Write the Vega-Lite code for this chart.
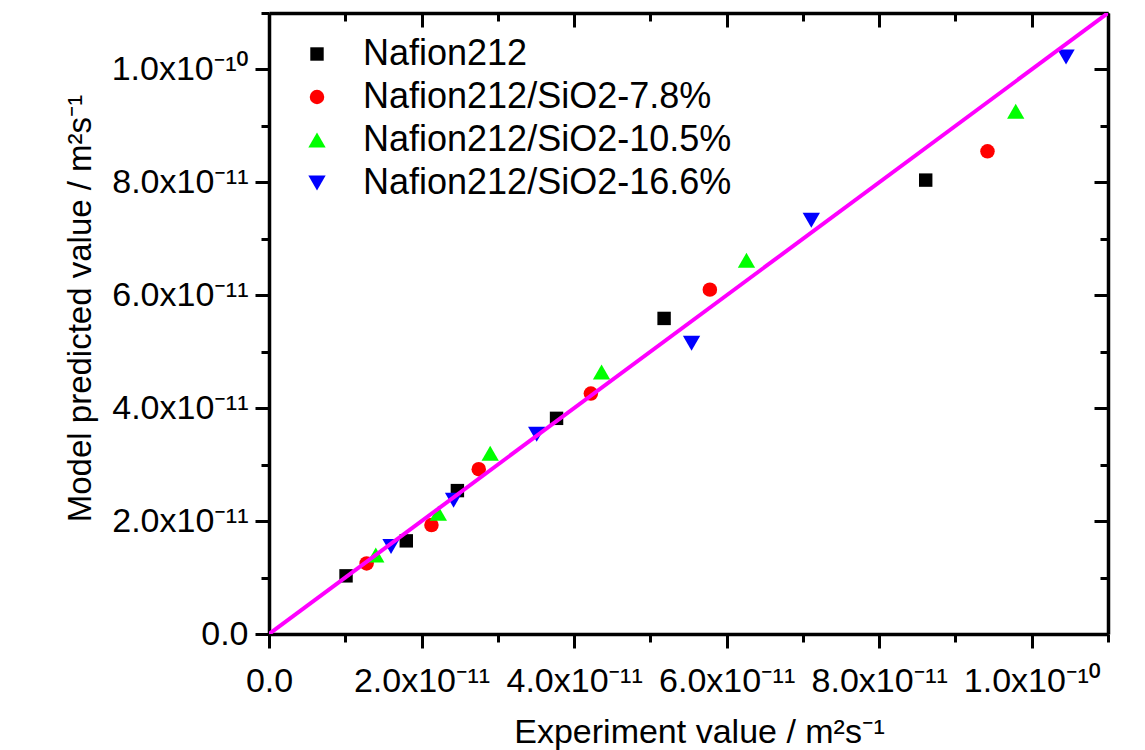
{
  "$schema": "https://vega.github.io/schema/vega-lite/v6.json",
  "autosize": {"type": "none"},
  "padding": {"left": 269, "top": 13, "right": 37, "bottom": 116},
  "width": 839,
  "height": 621,
  "background": "white",
  "config": {"font": "Liberation Sans, Noto Sans", "view": {"stroke": null}},
  "datasets": {
    "pts": [
      {"series": "Nafion212", "exp": 1.01e-11, "model": 1.03e-11},
      {"series": "Nafion212", "exp": 1.80e-11, "model": 1.65e-11},
      {"series": "Nafion212", "exp": 2.47e-11, "model": 2.54e-11},
      {"series": "Nafion212", "exp": 3.77e-11, "model": 3.82e-11},
      {"series": "Nafion212", "exp": 5.18e-11, "model": 5.59e-11},
      {"series": "Nafion212", "exp": 8.61e-11, "model": 8.04e-11},
      {"series": "Nafion212/SiO2-7.8%", "exp": 1.28e-11, "model": 1.25e-11},
      {"series": "Nafion212/SiO2-7.8%", "exp": 2.13e-11, "model": 1.93e-11},
      {"series": "Nafion212/SiO2-7.8%", "exp": 2.75e-11, "model": 2.92e-11},
      {"series": "Nafion212/SiO2-7.8%", "exp": 4.22e-11, "model": 4.26e-11},
      {"series": "Nafion212/SiO2-7.8%", "exp": 5.78e-11, "model": 6.10e-11},
      {"series": "Nafion212/SiO2-7.8%", "exp": 9.42e-11, "model": 8.55e-11},
      {"series": "Nafion212/SiO2-10.5%", "exp": 1.40e-11, "model": 1.40e-11},
      {"series": "Nafion212/SiO2-10.5%", "exp": 2.22e-11, "model": 2.14e-11},
      {"series": "Nafion212/SiO2-10.5%", "exp": 2.90e-11, "model": 3.20e-11},
      {"series": "Nafion212/SiO2-10.5%", "exp": 4.36e-11, "model": 4.64e-11},
      {"series": "Nafion212/SiO2-10.5%", "exp": 6.26e-11, "model": 6.62e-11},
      {"series": "Nafion212/SiO2-10.5%", "exp": 9.79e-11, "model": 9.26e-11},
      {"series": "Nafion212/SiO2-16.6%", "exp": 1.60e-11, "model": 1.55e-11},
      {"series": "Nafion212/SiO2-16.6%", "exp": 2.42e-11, "model": 2.37e-11},
      {"series": "Nafion212/SiO2-16.6%", "exp": 3.51e-11, "model": 3.54e-11},
      {"series": "Nafion212/SiO2-16.6%", "exp": 5.54e-11, "model": 5.15e-11},
      {"series": "Nafion212/SiO2-16.6%", "exp": 7.11e-11, "model": 7.33e-11},
      {"series": "Nafion212/SiO2-16.6%", "exp": 10.45e-11, "model": 10.22e-11}
    ],
    "diag": [
      {"exp": 0, "model": 0},
      {"exp": 1.1e-10, "model": 1.1e-10}
    ]
  },
  "resolve": {"axis": {"x": "independent", "y": "independent"}},
  "layer": [
    {
      "data": {"name": "pts"},
      "mark": {"type": "point", "filled": true, "opacity": 1, "strokeWidth": 0},
      "encoding": {
        "x": {
          "field": "exp", "type": "quantitative",
          "scale": {"domain": [0, 1.1e-10], "nice": false, "zero": false},
          "axis": {
            "orient": "bottom",
            "values": [0, 1e-11, 2e-11, 3e-11, 4e-11, 5e-11, 6e-11, 7e-11, 8e-11, 9e-11, 1e-10, 1.1e-10],
            "labelExpr": "round(datum.value*1e11) % 2 == 1 ? '' : round(datum.value*1e11) == 0 ? '0.0' : round(datum.value*1e11) >= 10 ? format(round(datum.value*1e11)/10, '.1f') + 'x10⁻¹⁰' : format(round(datum.value*1e11), '.1f') + 'x10⁻¹¹'",
            "labelFontSize": 34, "labelColor": "black", "labelFlush": false, "labelOverlap": false, "labelPadding": 16,
            "tickColor": "black", "tickWidth": 3,
            "tickSize": {"condition": {"test": "round(datum.value*1e11) % 2 == 1", "value": 8}, "value": 14},
            "domainColor": "black", "domainWidth": 3.5, "grid": false,
            "title": "Experiment value / m²s⁻¹", "titleFontSize": 34, "titleFontWeight": "normal", "titleColor": "black", "titlePadding": 17, "titleX": 430
          }
        },
        "y": {
          "field": "model", "type": "quantitative",
          "scale": {"domain": [0, 1.1e-10], "nice": false, "zero": false},
          "axis": {
            "orient": "left",
            "values": [0, 1e-11, 2e-11, 3e-11, 4e-11, 5e-11, 6e-11, 7e-11, 8e-11, 9e-11, 1e-10, 1.1e-10],
            "labelExpr": "round(datum.value*1e11) % 2 == 1 ? '' : round(datum.value*1e11) == 0 ? '0.0' : round(datum.value*1e11) >= 10 ? format(round(datum.value*1e11)/10, '.1f') + 'x10⁻¹⁰' : format(round(datum.value*1e11), '.1f') + 'x10⁻¹¹'",
            "labelFontSize": 34, "labelColor": "black", "labelFlush": false, "labelOverlap": false, "labelPadding": 7,
            "tickColor": "black", "tickWidth": 3,
            "tickSize": {"condition": {"test": "round(datum.value*1e11) % 2 == 1", "value": 8}, "value": 14},
            "domainColor": "black", "domainWidth": 3.5, "grid": false,
            "title": "Model predicted value / m²s⁻¹", "titleFontSize": 33, "titleFontWeight": "normal", "titleColor": "black", "titlePadding": 14, "titleY": 295
          }
        },
        "color": {
          "field": "series", "type": "nominal",
          "scale": {"domain": ["Nafion212", "Nafion212/SiO2-7.8%", "Nafion212/SiO2-10.5%", "Nafion212/SiO2-16.6%"], "range": ["#000000", "#ff0000", "#00ff00", "#0000ff"]},
          "legend": {
            "title": null, "orient": "none", "legendX": 30, "legendY": 23,
            "labelFontSize": 36, "labelColor": "black", "labelOffset": 28, "rowPadding": 7, "labelLimit": 600
          }
        },
        "shape": {
          "field": "series", "type": "nominal",
          "scale": {"domain": ["Nafion212", "Nafion212/SiO2-7.8%", "Nafion212/SiO2-10.5%", "Nafion212/SiO2-16.6%"], "range": ["square", "circle", "triangle-up", "triangle-down"]}
        },
        "size": {
          "field": "series", "type": "ordinal",
          "scale": {"type": "ordinal", "domain": ["Nafion212", "Nafion212/SiO2-7.8%", "Nafion212/SiO2-10.5%", "Nafion212/SiO2-16.6%"], "range": [180, 210, 300, 300]},
          "legend": null
        }
      }
    },
    {
      "data": {"name": "diag"},
      "mark": {"type": "line", "color": "#ff00ff", "strokeWidth": 4, "clip": true},
      "encoding": {
        "x": {
          "field": "exp", "type": "quantitative",
          "scale": {"domain": [0, 1.1e-10], "nice": false, "zero": false},
          "axis": {
            "orient": "top", "labels": false, "title": null,
            "values": [0, 1e-11, 2e-11, 3e-11, 4e-11, 5e-11, 6e-11, 7e-11, 8e-11, 9e-11, 1e-10, 1.1e-10],
            "tickColor": "black", "tickWidth": 3,
            "tickSize": {"condition": {"test": "round(datum.value*1e11) % 2 == 1", "value": -8}, "value": -14},
            "domainColor": "black", "domainWidth": 3.5, "grid": false
          }
        },
        "y": {
          "field": "model", "type": "quantitative",
          "scale": {"domain": [0, 1.1e-10], "nice": false, "zero": false},
          "axis": {
            "orient": "right", "labels": false, "title": null,
            "values": [0, 1e-11, 2e-11, 3e-11, 4e-11, 5e-11, 6e-11, 7e-11, 8e-11, 9e-11, 1e-10, 1.1e-10],
            "tickColor": "black", "tickWidth": 3,
            "tickSize": {"condition": {"test": "round(datum.value*1e11) % 2 == 1", "value": -8}, "value": -14},
            "domainColor": "black", "domainWidth": 3.5, "grid": false
          }
        }
      }
    }
  ]
}
